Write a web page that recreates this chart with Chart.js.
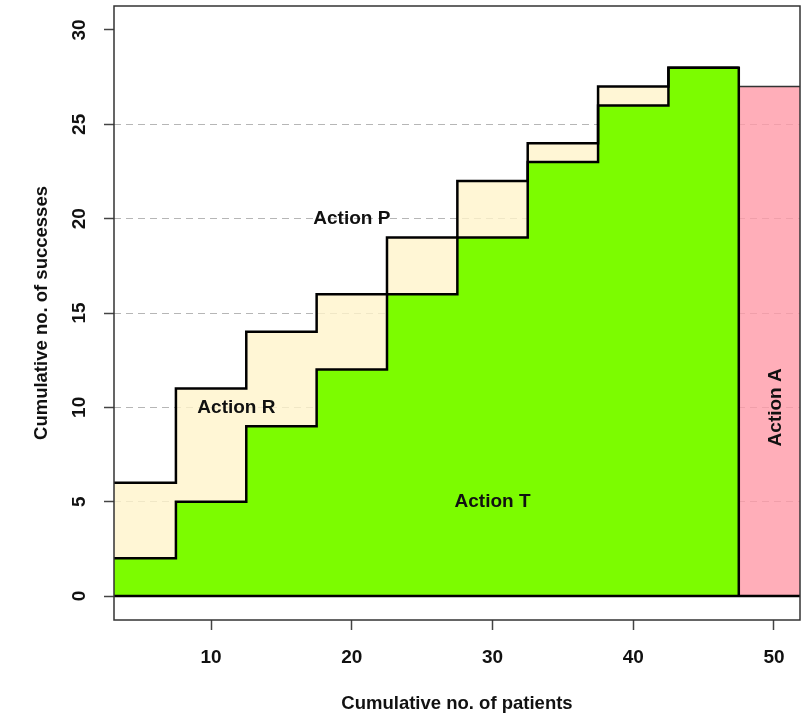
<!DOCTYPE html>
<html>
<head>
<meta charset="utf-8">
<script src="https://cdn.jsdelivr.net/npm/chart.js@4/dist/chart.umd.min.js"></script>
<style>
  html, body { margin: 0; padding: 0; background: #fff; }
  canvas { display: block; }
</style>
</head>
<body>
<canvas id="chart" width="804" height="718"></canvas>
<script>
// Step edges (cumulative no. of patients) and boundaries
const stepEdges = [2.5, 7.5, 12.5, 17.5, 22.5, 27.5, 32.5, 37.5, 42.5, 47.5];
const upperBound = [6, 11, 14, 16, 19, 22, 24, 27, 28, 28];
const lowerBound = [2, 5, 9, 12, 16, 19, 23, 26, 28, 28];

// Action A block
const actionAEdges = [47.5, 52];
const actionAValues = [27, 27];

// Tick labels
const xTicks = [10, 20, 30, 40, 50];
const yTicks = [0, 5, 10, 15, 20, 25, 30];

// Region labels
const regionLabels = ["Action P", "Action R", "Action T", "Action A"];
const labelX = [20, 11.8, 30, 50.1];
const labelY = [20, 10, 5, 10];
const labelRot = [0, 0, 0, -90];

const FONT = '"Liberation Sans", Arial, sans-serif';

const toPoints = (xs, ys) => xs.map((x, i) => ({ x: x, y: ys[i] }));

// green region also drops back to 0 at its right edge
const greenPts = toPoints(stepEdges, lowerBound);
greenPts.push({ x: stepEdges[stepEdges.length - 1], y: 0 });

const boxPlugin = {
    id: "box",
    afterDraw: (chart) => {
        const a = chart.chartArea;
        const ctx = chart.ctx;
        ctx.save();
        ctx.strokeStyle = "#333";
        ctx.lineWidth = 1.5;
        ctx.strokeRect(a.left, a.top, a.right - a.left, a.bottom - a.top);
        ctx.restore();
    },
};

const labelPlugin = {
    id: "regionLabels",
    afterDraw: (chart) => {
        const ctx = chart.ctx;
        const xs = chart.scales.x;
        const ys = chart.scales.y;
        ctx.save();
        ctx.font = "bold 19px " + FONT;
        ctx.fillStyle = "#111";
        ctx.textAlign = "center";
        ctx.textBaseline = "middle";
        regionLabels.forEach((txt, i) => {
            ctx.save();
            ctx.translate(xs.getPixelForValue(labelX[i]), ys.getPixelForValue(labelY[i]));
            ctx.rotate(labelRot[i] * Math.PI / 180);
            ctx.fillText(txt, 0, 0);
            ctx.restore();
        });
        ctx.restore();
    },
};

const config = {
    type: "line",
    data: {
        datasets: [
            {
                label: "baseline",
                data: [{ x: 2.5, y: 0 }, { x: 52, y: 0 }],
                borderColor: "#000",
                borderWidth: 2.5,
                pointRadius: 0,
                fill: false,
                order: 1,
            },
            {
                label: "upper",
                data: toPoints(stepEdges, upperBound),
                stepped: "before",
                borderColor: "#000",
                borderWidth: 2.5,
                pointRadius: 0,
                fill: false,
                order: 2,
            },
            {
                label: "Action T",
                data: greenPts,
                stepped: "before",
                borderColor: "#000",
                borderWidth: 2.5,
                backgroundColor: "#7CFC00",
                pointRadius: 0,
                fill: "origin",
                order: 3,
            },
            {
                // slightly see-through so the dashed grid shows like in the original
                label: "Action R",
                data: toPoints(stepEdges, upperBound),
                stepped: "before",
                borderWidth: 0,
                borderColor: "rgba(0,0,0,0)",
                backgroundColor: "rgba(255,244,203,0.8)",
                pointRadius: 0,
                fill: "origin",
                order: 4,
            },
            {
                label: "Action A",
                data: toPoints(actionAEdges, actionAValues),
                borderColor: "#333",
                borderWidth: 1.5,
                backgroundColor: "rgba(255,154,167,0.8)",
                pointRadius: 0,
                fill: "origin",
                order: 5,
            },
        ],
    },
    options: {
        responsive: false,
        animation: false,
        layout: { padding: { top: 6, right: 4, left: 0, bottom: 0 } },
        plugins: {
            legend: { display: false },
            tooltip: { enabled: false },
        },
        scales: {
            x: {
                type: "linear",
                min: 3.1,
                max: 51.85,
                afterBuildTicks: (s) => { s.ticks = xTicks.map((v) => ({ value: v })); },
                afterFit: (s) => {
                    s.height = 98;
                    s.paddingLeft = 0;
                    s.paddingRight = 0;
                },
                grid: {
                    drawOnChartArea: false,
                    drawTicks: true,
                    tickLength: 10,
                    tickColor: "#444",
                    tickWidth: 1.5,
                },
                border: { display: false },
                ticks: {
                    font: { family: FONT, size: 19, weight: "bold" },
                    color: "#111",
                    padding: 16,
                    maxRotation: 0,
                },
                title: {
                    display: true,
                    text: "Cumulative no. of patients",
                    font: { family: FONT, size: 18.5, weight: "bold" },
                    color: "#111",
                    padding: { top: 0, bottom: 3 },
                },
            },
            y: {
                type: "linear",
                min: -1.27,
                max: 31.27,
                afterBuildTicks: (s) => { s.ticks = yTicks.map((v) => ({ value: v })); },
                afterFit: (s) => {
                    s.width = 114;
                    s.paddingTop = 0;
                    s.paddingBottom = 0;
                },
                grid: {
                    color: (c) => (c.tick && c.tick.value > 0 && c.tick.value < 30) ? "rgba(110,110,110,0.5)" : "rgba(0,0,0,0)",
                    lineWidth: 1,
                    drawTicks: true,
                    tickLength: 10,
                    tickColor: "#444",
                    tickWidth: 1.5,
                },
                border: { display: false, dash: [7, 5] },
                ticks: {
                    font: { family: FONT, size: 19, weight: "bold" },
                    color: "#111",
                    minRotation: 90,
                    maxRotation: 90,
                    crossAlign: "center",
                    padding: 14,
                },
                title: {
                    display: true,
                    text: "Cumulative no. of successes",
                    font: { family: FONT, size: 18.5, weight: "bold" },
                    color: "#111",
                    padding: { top: 31, bottom: 0 },
                },
            },
        },
    },
    plugins: [labelPlugin, boxPlugin],
};

let lineGraph = new Chart(document.getElementById("chart"), config);
</script>
</body>
</html>
